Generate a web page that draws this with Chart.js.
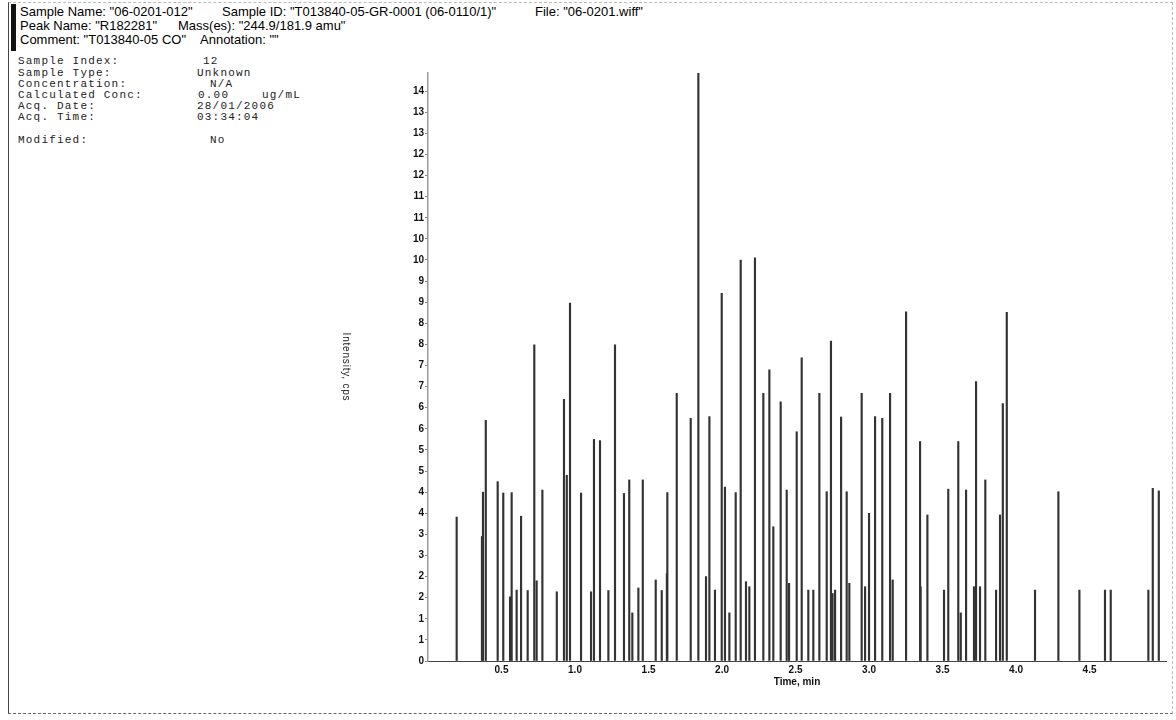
<!DOCTYPE html>
<html>
<head>
<meta charset="utf-8">
<script src="https://cdn.jsdelivr.net/npm/chart.js@4.4.1/dist/chart.umd.min.js"></script>
<style>
  body { margin: 0; background: #fff; }
  #page { position: relative; width: 1176px; height: 720px; overflow: hidden; }
  #frame { position: absolute; left: 8px; top: 2px; width: 1165px; height: 712px;
    border: 1px dashed #bbb; border-left: 1px solid #444; border-bottom: 1px dashed #666; box-sizing: border-box; }
  #bar { position: absolute; left: 11px; top: 4px; width: 5px; height: 47px; background: #111; }
  .hd { position: absolute; font: 13px "Liberation Sans", Arial, sans-serif; color: #000; white-space: pre; }
  .inf { position: absolute; font: 11px "Liberation Mono", "Courier New", monospace; letter-spacing: 1.2px; color: #222; white-space: pre; }
  canvas { position: absolute; left: 0; top: 0; }
</style>
</head>
<body>
<div id="page">
  <div id="frame"></div>
  <div id="bar"></div>
  <div class="hd" style="left:20px;top:4px">Sample Name: "06-0201-012"</div>
  <div class="hd" style="left:222px;top:4px">Sample ID: "T013840-05-GR-0001 (06-0110/1)"</div>
  <div class="hd" style="left:535px;top:4px">File: "06-0201.wiff"</div>
  <div class="hd" style="left:20px;top:18px">Peak Name: "R182281"</div>
  <div class="hd" style="left:178px;top:18px">Mass(es): "244.9/181.9 amu"</div>
  <div class="hd" style="left:20px;top:32px">Comment: "T013840-05 CO"</div>
  <div class="hd" style="left:200px;top:32px">Annotation: ""</div>

  <div class="inf" style="left:18px;top:55px">Sample Index:</div><div class="inf" style="left:203px;top:55px">12</div>
  <div class="inf" style="left:18px;top:67px">Sample Type:</div><div class="inf" style="left:197px;top:67px">Unknown</div>
  <div class="inf" style="left:18px;top:78px">Concentration:</div><div class="inf" style="left:210px;top:78px">N/A</div>
  <div class="inf" style="left:18px;top:89px">Calculated Conc:</div><div class="inf" style="left:198px;top:89px">0.00</div><div class="inf" style="left:262px;top:89px">ug/mL</div>
  <div class="inf" style="left:18px;top:100px">Acq. Date:</div><div class="inf" style="left:197px;top:100px">28/01/2006</div>
  <div class="inf" style="left:18px;top:111px">Acq. Time:</div><div class="inf" style="left:197px;top:111px">03:34:04</div>
  <div class="inf" style="left:18px;top:134px">Modified:</div><div class="inf" style="left:210px;top:134px">No</div>

  <canvas id="chrom" width="1176" height="720"></canvas>
</div>
<script>
// peak apex times (min) and intensities
const peakTimes = [
  0.195, 0.367, 0.374, 0.393, 0.474, 0.512, 0.558, 0.569, 0.603, 0.633, 0.678,
  0.723, 0.739, 0.778, 0.876, 0.925, 0.944, 0.966, 1.041, 1.109, 1.129,
  1.170, 1.227, 1.272, 1.333, 1.369, 1.390, 1.431, 1.461, 1.549, 1.590,
  1.625, 1.628, 1.692, 1.787, 1.839, 1.891, 1.914, 1.952, 1.998, 2.020, 2.050,
  2.093, 2.127, 2.163, 2.186, 2.224, 2.281, 2.322, 2.349, 2.399, 2.440,
  2.456, 2.508, 2.542, 2.587, 2.621, 2.662, 2.712, 2.741, 2.752, 2.769, 2.810,
  2.848, 2.866, 2.950, 2.973, 3.000, 3.041, 3.090, 3.143, 3.161, 3.252,
  3.351, 3.347, 3.397, 3.510, 3.539, 3.607, 3.624, 3.660, 3.714, 3.728, 3.755, 3.791,
  3.864, 3.891, 3.910, 3.937, 4.129, 4.288, 4.431, 4.605, 4.644, 4.900,
  4.930, 4.971
];
const peakHeights = [
  3.41, 2.95, 4.00, 5.70, 4.25, 3.98, 1.52, 3.99, 1.68, 3.43, 1.67,
  7.49, 1.90, 4.05, 1.64, 6.20, 4.40, 8.48, 3.98, 1.64, 5.25,
  5.22, 1.67, 7.49, 3.97, 4.29, 1.14, 1.73, 4.29, 1.92, 1.67,
  2.07, 3.99, 6.34, 5.75, 13.92, 2.00, 5.79, 1.68, 8.71, 4.12, 1.14,
  3.99, 9.50, 1.88, 1.76, 9.55, 6.34, 6.90, 3.18, 6.14, 4.05,
  1.84, 5.43, 7.18, 1.68, 1.68, 6.34, 4.01, 7.58, 1.60, 1.68, 5.78,
  4.01, 1.84, 6.34, 1.76, 3.50, 5.79, 5.75, 6.34, 1.92, 8.27,
  1.76, 5.20, 3.46, 1.68, 4.07, 5.20, 1.14, 4.05, 1.76, 6.62, 1.76, 4.29,
  1.68, 3.46, 6.10, 8.26, 1.68, 4.01, 1.68, 1.68, 1.68, 1.68,
  4.09, 4.03
];

const xTicks = [0.5, 1.0, 1.5, 2.0, 2.5, 3.0, 3.5, 4.0, 4.5];
const xTickLabels = ["0.5", "1.0", "1.5", "2.0", "2.5", "3.0", "3.5", "4.0", "4.5"];
const yTicks = [0, 0.5, 1, 1.5, 2, 2.5, 3, 3.5, 4, 4.5, 5, 5.5, 6, 6.5, 7,
  7.5, 8, 8.5, 9, 9.5, 10, 10.5, 11, 11.5, 12, 12.5, 13, 13.5];
const yTickLabels = ["0", "1", "1", "2", "2", "3", "3", "4", "4", "5", "5", "6", "6", "7", "7",
  "8", "8", "9", "9", "10", "10", "11", "11", "12", "12", "13", "13", "14"];

const tickFont = { family: "'Liberation Sans', Arial, sans-serif", size: 10, weight: "bold" };

// y title reads top-to-bottom and sits well left of the axis
const yTitle = {
  id: "yTitle",
  afterDraw(chart) {
    const ctx = chart.ctx;
    const area = chart.chartArea;
    ctx.save();
    ctx.translate(346, (area.top + area.bottom) / 2);
    ctx.rotate(Math.PI / 2);
    ctx.font = "10px 'Liberation Sans', Arial, sans-serif";
    ctx.letterSpacing = "0.8px";
    ctx.fillStyle = "#222";
    ctx.textAlign = "center";
    ctx.textBaseline = "middle";
    ctx.fillText("Intensity, cps", 0, 0);
    ctx.restore();
  }
};

const ctx = document.getElementById("chrom").getContext("2d");
new Chart(ctx, {
  type: "bar",
  data: {
    datasets: [{
      data: peakTimes.map((t, i) => ({ x: t, y: peakHeights[i] })),
      backgroundColor: "#333",
      barThickness: 1.5
    }]
  },
  options: {
    responsive: false,
    animation: false,
    layout: { padding: { left: 380, top: 73, right: 10, bottom: 29 } },
    plugins: { legend: { display: false }, tooltip: { enabled: false } },
    scales: {
      x: {
        type: "linear",
        min: 0,
        max: 5.02,
        offset: false,
        afterBuildTicks: s => { s.ticks = xTicks.map(v => ({ value: v })); },
        afterFit: s => { s.height = 30; },
        grid: { display: false, drawTicks: false, offset: false },
        border: { color: "#444" },
        ticks: {
          padding: 3,
          color: "#111",
          font: tickFont,
          maxRotation: 0,
          callback: (v, i) => xTickLabels[i]
        },
        title: {
          display: true,
          text: "Time, min",
          color: "#111",
          font: { family: "'Liberation Sans', Arial, sans-serif", size: 10, weight: "bold" },
          padding: { top: 0, bottom: 3 }
        }
      },
      y: {
        min: 0,
        max: 13.93,
        afterBuildTicks: s => { s.ticks = yTicks.map(v => ({ value: v })); },
        afterFit: s => { s.width = 48; },
        grid: { drawOnChartArea: false, tickLength: 3, color: "#888" },
        border: { color: "#999", width: 1.5 },
        ticks: {
          padding: 1,
          color: "#111",
          font: tickFont,
          autoSkip: false,
          callback: (v, i) => yTickLabels[i]
        }
      }
    }
  },
  plugins: [yTitle]
});
</script>
</body>
</html>
